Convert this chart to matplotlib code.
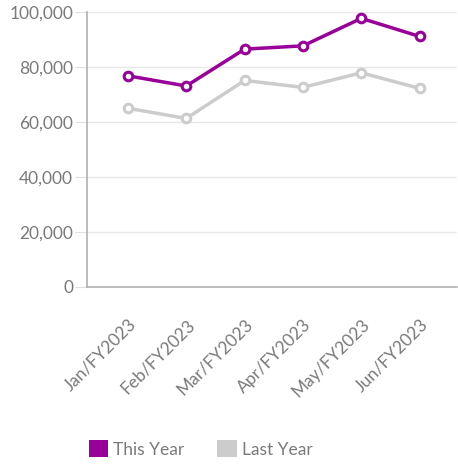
import matplotlib
matplotlib.use("Agg")
import matplotlib.pyplot as plt
from matplotlib.patches import Patch
from matplotlib.ticker import FuncFormatter

plt.rcParams['font.family'] = ['Lato', 'DejaVu Sans']

months = ['Jan/FY2023', 'Feb/FY2023', 'Mar/FY2023', 'Apr/FY2023', 'May/FY2023', 'Jun/FY2023']
this_year = [76800, 73100, 86500, 87700, 97700, 91100]
last_year = [65000, 61300, 75100, 72600, 77900, 72200]
yticks = [0, 20000, 40000, 60000, 80000, 100000]

purple = '#990099'
grey = '#cccccc'
txt = '#7a7a7a'

fig = plt.figure(figsize=(4.58, 4.71), dpi=100)
ax = fig.add_axes([0.19, 0.3907, 0.808, 0.5838])

x = list(range(len(months)))
ax.plot(x, last_year, color=grey, lw=2.5, marker='o', ms=6.2, mfc='white', mec=grey, mew=2.2, zorder=3)
ax.plot(x, this_year, color=purple, lw=2.5, marker='o', ms=6.2, mfc='white', mec=purple, mew=2.2, zorder=4)

ax.set_ylim(0, 100000)
ax.set_xlim(-0.70, 5.64)
ax.set_yticks(yticks)
ax.yaxis.set_major_formatter(FuncFormatter(lambda v, p: f'{int(v):,}'))
ax.grid(axis='y', color='#e8e8e8', lw=1)
ax.set_axisbelow(True)

for s in ['top', 'right']:
    ax.spines[s].set_visible(False)
ax.spines['left'].set_color('#b0b0b0')
ax.spines['bottom'].set_color('#b0b0b0')
ax.spines['left'].set_linewidth(1.2)
ax.spines['bottom'].set_linewidth(1.2)

ax.tick_params(axis='y', length=9, color='#e0e0e0', labelsize=12.5, labelcolor=txt, pad=1)
ax.tick_params(axis='x', length=0, labelsize=12.5, labelcolor=txt, pad=21)
ax.set_xticks(x)
ax.set_xticklabels(months, rotation=45, ha='right', rotation_mode='anchor')

handles = [Patch(facecolor=purple, label='This Year'), Patch(facecolor=grey, label='Last Year')]
fig.legend(handles=handles, loc='lower left', bbox_to_anchor=(0.16, -0.005), ncol=2, frameon=False,
           fontsize=12.5, labelcolor=txt, handlelength=1.1, handleheight=1.1, handletextpad=0.3,
           columnspacing=1.9)

fig.savefig('out.png', dpi=100)
